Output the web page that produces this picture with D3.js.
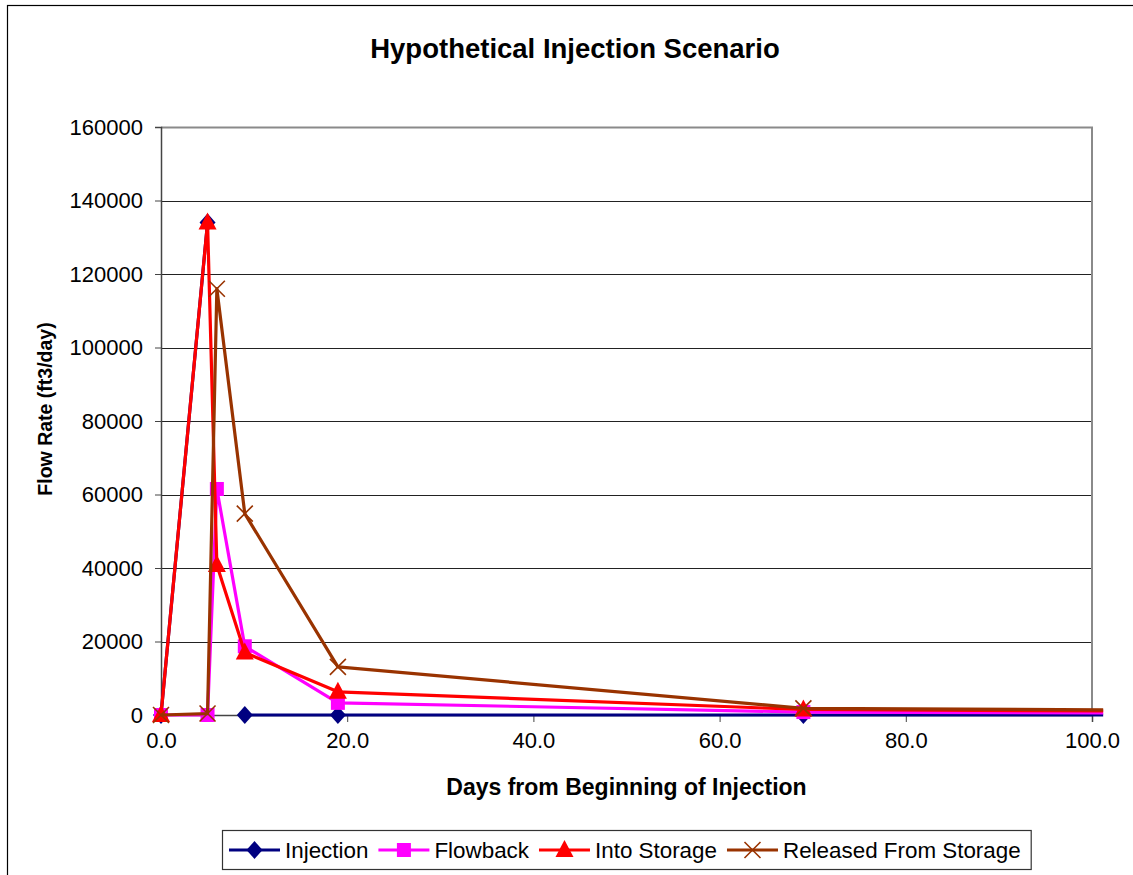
<!DOCTYPE html>
<html>
<head>
<meta charset="utf-8">
<script src="https://cdn.jsdelivr.net/npm/d3@7"></script>
<style>
  body { margin: 0; background: #fff; }
  text { font-family: "Liberation Sans", Arial, sans-serif; fill: #000; }
</style>
</head>
<body>
<div id="chart"></div>
<script>
// data
var days = [0, 5, 6, 9, 19, 69, 101.2];
var injection = [0, 134000, null, 0, 0, 0, 0];
var flowback = [0, 0, 61500, 18700, 3300, 800, 600];
var intoStorage = [0, 134000, 40800, 17000, 6300, 1500, 1100];
var released = [0, 400, 116000, 54800, 13100, 1800, 1400];

var seriesNames = ["Injection", "Flowback", "Into Storage", "Released From Storage"];
var yTicks = [0, 20000, 40000, 60000, 80000, 100000, 120000, 140000, 160000];
var xTicks = [0, 20, 40, 60, 80, 100];

var svgWidth = 1133;
var svgHeight = 875;

var margin = { top: 127, right: 41, bottom: 160, left: 161 };
var width = svgWidth - margin.left - margin.right;   // 931
var height = svgHeight - margin.top - margin.bottom; // 588

var svg = d3.select("#chart")
  .append("svg")
  .attr("width", svgWidth)
  .attr("height", svgHeight);

// outer chart frame (runs past the right and bottom edges)
svg.append("rect")
  .attr("x", 7.5)
  .attr("y", 5.5)
  .attr("width", 1200)
  .attr("height", 1000)
  .attr("fill", "none")
  .attr("stroke", "#000")
  .attr("stroke-width", 1.2);

svg.append("text")
  .attr("x", 575)
  .attr("y", 58)
  .attr("text-anchor", "middle")
  .style("font-size", "27.5px")
  .style("font-weight", "bold")
  .text("Hypothetical Injection Scenario");

var chartGroup = svg.append("g")
  .attr("transform", `translate(${margin.left}, ${margin.top})`);

var xScale = d3.scaleLinear().domain([0, 100]).range([0, width]);
var yScale = d3.scaleLinear().domain([0, 160000]).range([height, 0]);

// gridlines
chartGroup.selectAll(".grid")
  .data(yTicks.slice(1))
  .enter()
  .append("line")
  .attr("x1", 0)
  .attr("x2", width)
  .attr("y1", d => Math.round(yScale(d)) + 0.5)
  .attr("y2", d => Math.round(yScale(d)) + 0.5)
  .attr("stroke", "#222")
  .attr("stroke-width", 1);

// plot area border top/right
chartGroup.append("path")
  .attr("d", `M0,0.5H${width}V${height}`)
  .attr("fill", "none")
  .attr("stroke", "#8a8a8a")
  .attr("stroke-width", 2);

// axes
var leftAxis = d3.axisLeft(yScale)
  .tickValues(yTicks)
  .tickFormat(d3.format("d"))
  .tickSize(6)
  .tickPadding(12);

var bottomAxis = d3.axisBottom(xScale)
  .tickValues(xTicks)
  .tickFormat(d => d.toFixed(1))
  .tickSize(7)
  .tickPadding(10);

var yAxisG = chartGroup.append("g").call(leftAxis);
var xAxisG = chartGroup.append("g")
  .attr("transform", `translate(0, ${height})`)
  .call(bottomAxis);

[yAxisG, xAxisG].forEach(function(g) {
  g.select(".domain").attr("stroke", "#444").attr("stroke-width", 1.5);
  g.selectAll(".tick line").attr("stroke", "#444");
  g.selectAll("text")
    .style("font-size", "22px")
    .style("font-family", "'Liberation Sans', Arial, sans-serif")
    .attr("fill", "#000");
});

// axis titles
chartGroup.append("text")
  .attr("transform", "rotate(-90)")
  .attr("x", 0 - (height / 2) + 12)
  .attr("y", 52 - margin.left)
  .attr("text-anchor", "middle")
  .style("font-size", "19.5px")
  .style("font-weight", "bold")
  .text("Flow Rate (ft3/day)");

chartGroup.append("text")
  .attr("x", width / 2)
  .attr("y", height + 80)
  .attr("text-anchor", "middle")
  .style("font-size", "23px")
  .style("font-weight", "bold")
  .text("Days from Beginning of Injection");

// marker shapes
var symbols = {
  diamond: function(g, color) {
    g.append("path").attr("d", "M0,-9L8,0L0,9L-8,0Z").attr("fill", color);
  },
  square: function(g, color) {
    g.append("rect").attr("x", -7).attr("y", -7).attr("width", 14).attr("height", 14).attr("fill", color);
  },
  triangle: function(g, color) {
    g.append("path").attr("d", "M0,-10L9,7L-9,7Z").attr("fill", color);
  },
  cross: function(g, color) {
    g.append("path").attr("d", "M-8,-8L8,8M-8,8L8,-8")
      .attr("stroke", color).attr("stroke-width", 1.6).attr("fill", "none");
  }
};

var series = [
  { name: seriesNames[0], values: injection, color: "#000080", marker: "diamond" },
  { name: seriesNames[1], values: flowback, color: "#ff00ff", marker: "square" },
  { name: seriesNames[2], values: intoStorage, color: "#ff0000", marker: "triangle" },
  { name: seriesNames[3], values: released, color: "#993300", marker: "cross" }
];

var line = d3.line()
  .defined(d => d.y !== null)
  .x(d => xScale(d.x))
  .y(d => yScale(d.y));

series.forEach(function(s) {
  var pts = days.map((x, i) => ({ x: x, y: s.values[i] }));
  chartGroup.append("path")
    .datum(pts)
    .attr("d", line)
    .attr("fill", "none")
    .attr("stroke", s.color)
    .attr("stroke-width", 3.2)
    .attr("stroke-linejoin", "round");

  chartGroup.selectAll(null)
    .data(pts.filter(d => d.y !== null && d.x <= 100))
    .enter()
    .append("g")
    .attr("transform", d => `translate(${xScale(d.x)}, ${yScale(d.y)})`)
    .each(function() { symbols[s.marker](d3.select(this), s.color); });
});

// legend
var legend = svg.append("g");
var legendBox = legend.append("rect")
  .attr("x", 222.5)
  .attr("y", 830.5)
  .attr("height", 39)
  .attr("fill", "#fff")
  .attr("stroke", "#333")
  .attr("stroke-width", 1.2);

var lx = 229;
series.forEach(function(s) {
  var item = legend.append("g").attr("transform", `translate(${lx}, 850)`);
  item.append("line")
    .attr("x1", 0).attr("x2", 51)
    .attr("stroke", s.color).attr("stroke-width", 3.2);
  var m = item.append("g").attr("transform", "translate(25.5, 0)");
  symbols[s.marker](m, s.color);
  var t = item.append("text")
    .attr("x", 56)
    .attr("dy", "0.35em")
    .style("font-size", "22.4px")
    .text(s.name);
  lx += 56 + t.node().getComputedTextLength() + 10;
});
legendBox.attr("width", lx - 222);
</script>
</body>
</html>
